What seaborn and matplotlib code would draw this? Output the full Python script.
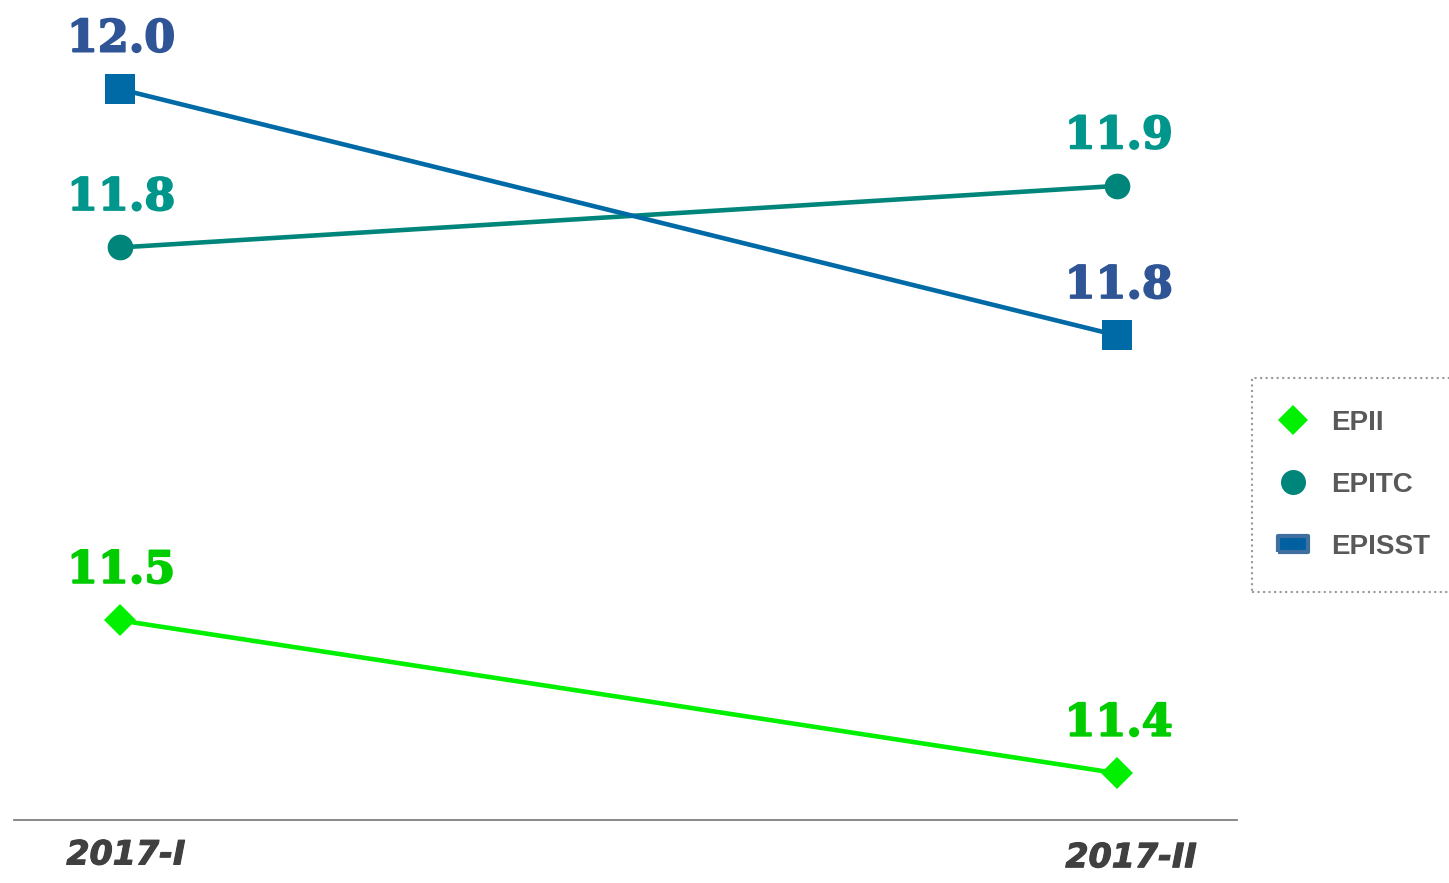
import pandas as pd
import matplotlib.pyplot as plt
import matplotlib.patheffects as pe
from matplotlib.lines import Line2D
import seaborn as sns

# periods on the x axis
periods = ['2017-I', '2017-II']

# series values (shown rounded to one decimal)
epii = [11.497, 11.358]
epitc = [11.836, 11.892]
episst = [11.98, 11.756]

series = ['EPII', 'EPITC', 'EPISST']
values = {'EPII': epii, 'EPITC': epitc, 'EPISST': episst}

df = pd.DataFrame([
    {'periodo': p, 'serie': s, 'valor': v}
    for s in series for p, v in zip(periods, values[s])
])

line_colors = {'EPII': '#00F000', 'EPITC': '#00857A', 'EPISST': '#006AA6'}
label_colors = {'EPII': '#00CC00', 'EPITC': '#00968C', 'EPISST': '#2F5597'}
markers = {'EPII': 'D', 'EPITC': 'o', 'EPISST': 's'}
msizes = {'EPII': 16, 'EPITC': 18.5, 'EPISST': 21.5}

sns.set_style('white')

fig = plt.figure(figsize=(14.49, 8.83), dpi=100)
ax = fig.add_axes([14 / 1449, 63 / 883, 1223 / 1449, 820 / 883])

for s in series:
    sub = df[df['serie'] == s]
    sns.lineplot(data=sub, x='periodo', y='valor', ax=ax, color=line_colors[s],
                 marker=markers[s], markersize=msizes[s], markeredgewidth=0,
                 linewidth=3.3, legend=False)
    for i, row in enumerate(sub.itertuples()):
        ax.annotate(f'{row.valor:.1f}', (i, row.valor), xytext=(1, 27),
                    textcoords='offset points', ha='center', va='baseline',
                    fontsize=32, fontweight='bold', family='DejaVu Serif',
                    color=label_colors[s],
                    path_effects=[pe.withStroke(linewidth=1.3,
                                                foreground=label_colors[s])])

ax.set_xlim(-0.106, 1.12)
ax.set_ylim(11.3155, 12.061)
ax.set_xlabel('')
ax.set_ylabel('')
ax.set_yticks([])
ax.set_xticks([0, 1])
ax.set_xticklabels([])
ax.tick_params(axis='x', length=0)

# period labels, nudged like in the original
for i, (p, dx, dy) in enumerate(zip(periods, [4.5, 10], [-32, -34])):
    ax.annotate(p, (i, 0), xycoords=ax.get_xaxis_transform(),
                xytext=(dx, dy), textcoords='offset points',
                ha='center', va='baseline', fontsize=24, fontweight='bold',
                fontstyle='italic', color='#404040',
                path_effects=[pe.withStroke(linewidth=0.8, foreground='#404040')])

for side in ['top', 'right', 'left']:
    ax.spines[side].set_visible(False)
ax.spines['bottom'].set_color('#808080')
ax.spines['bottom'].set_linewidth(1.3)

rect = [(-1, -0.55), (1, -0.55), (1, 0.55), (-1, 0.55), (-1, -0.55)]
handles = [
    Line2D([], [], linestyle='none', marker='D', markersize=15,
           markerfacecolor='#00F000', markeredgewidth=0),
    Line2D([], [], linestyle='none', marker='o', markersize=18,
           markerfacecolor='#00857A', markeredgewidth=0),
    Line2D([], [], linestyle='none', marker=rect, markersize=21,
           markerfacecolor='#0060A0', markeredgecolor='#3F6FA0',
           markeredgewidth=3),
]
leg = fig.legend(handles, series, loc='upper left',
                 bbox_to_anchor=(1252 / 1449, 1 - 378 / 883),
                 borderaxespad=0, borderpad=1.15, labelspacing=1.3,
                 handlelength=0.62, handletextpad=1.08,
                 prop={'family': 'Liberation Sans', 'weight': 'bold', 'size': 20},
                 labelcolor='#595959', fancybox=False, frameon=True)
frame = leg.get_frame()
frame.set_edgecolor('#808080')
frame.set_linestyle(':')
frame.set_linewidth(1.5)

fig.savefig('out.png', dpi=100)
